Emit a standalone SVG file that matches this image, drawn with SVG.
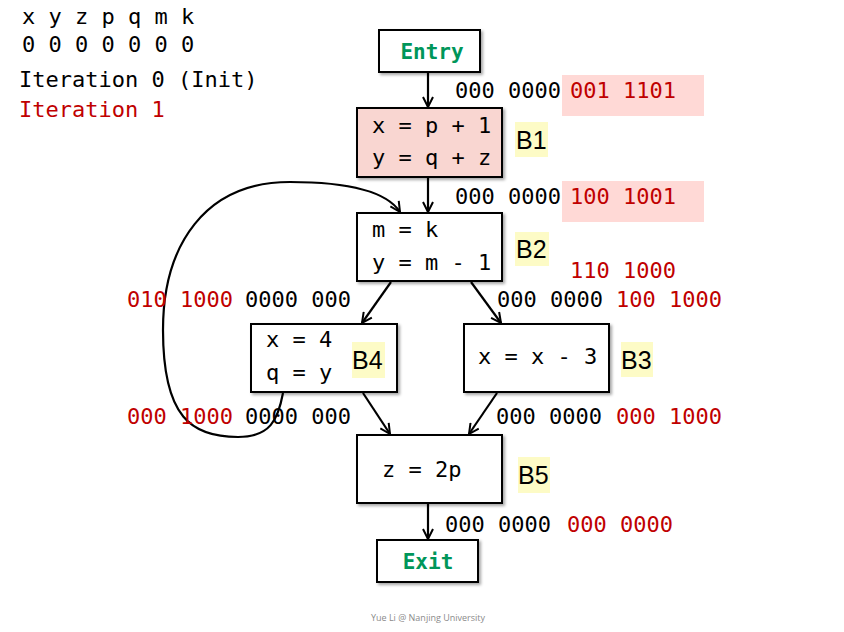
<svg xmlns="http://www.w3.org/2000/svg" width="844" height="632" viewBox="0 0 844 632">
<style>
.m{font-family:"DejaVu Sans Mono","Liberation Mono",monospace;font-size:22px;fill:#000}
.r{fill:#C00000}
.g{font-family:"DejaVu Sans Mono","Liberation Mono",monospace;font-size:21px;font-weight:bold;fill:#00965A}
.box{fill:#fff;stroke:#000;stroke-width:2;filter:url(#sh)}
.lbl{fill:#FDFBC6}
.bl{font-family:"Liberation Sans",Arial,sans-serif;font-size:25px;fill:#000}
.pk{fill:#FFD9D6}
.e{fill:none;stroke:#000;stroke-width:2.2;marker-end:url(#ah)}
</style>
<defs>
<filter id="sh" x="-10%" y="-10%" width="130%" height="130%"><feDropShadow dx="2" dy="2" stdDeviation="1.5" flood-color="#000" flood-opacity="0.35"/></filter>
<marker id="ah" viewBox="0 0 12 12" refX="11" refY="6" markerWidth="12" markerHeight="12" markerUnits="userSpaceOnUse" orient="auto"><path d="M1,1 L11,6 L1,11" fill="none" stroke="#000" stroke-width="2"/></marker>
</defs>
<rect width="844" height="632" fill="#fff"/>
<g id="legend">
<text class="m" x="22" y="24">x y z p q m k</text>
<text class="m" x="22" y="52">0 0 0 0 0 0 0</text>
<text class="m" x="19" y="87">Iteration 0 (Init)</text>
<text class="m r" x="19" y="117">Iteration 1</text>
</g>
<g id="edges">
<line class="e" x1="428" y1="72" x2="428" y2="107"/>
<line class="e" x1="428" y1="177" x2="428" y2="212"/>
<line class="e" x1="391" y1="282" x2="362" y2="323"/>
<line class="e" x1="471" y1="282" x2="501" y2="323"/>
<line class="e" x1="363" y1="393" x2="390" y2="434"/>
<line class="e" x1="497" y1="393" x2="469" y2="434"/>
<line class="e" x1="428" y1="504" x2="428" y2="539"/>
<path class="e" d="M283 393 C278 420,270 437,238 437 C192 437,163 418,163 330 C163 245,205 182,290 182 C350 182,387 192,400 212"/>
</g>
<g id="edge-labels">
<rect class="pk" x="562" y="75" width="142" height="41"/>
<text class="m" x="455" y="98">000 0000</text><text class="m r" x="570" y="98">001 1101</text>
<rect class="pk" x="562" y="181" width="142" height="41"/>
<text class="m" x="455" y="204">000 0000</text><text class="m r" x="570" y="204">100 1001</text>
<text class="m r" x="570" y="278">110 1000</text>
<text class="m" x="497" y="307">000 0000</text><text class="m r" x="616" y="307">100 1000</text>
<text class="m r" x="127" y="307">010 1000</text><text class="m" x="245" y="307">0000 000</text>
<text class="m r" x="127" y="424">000 1000</text><text class="m" x="245" y="424">0000 000</text>
<text class="m" x="496" y="424">000 0000</text><text class="m r" x="616" y="424">000 1000</text>
<text class="m" x="445" y="532">000 0000</text><text class="m r" x="567" y="532">000 0000</text>
</g>
<g id="entry">
<rect class="box" x="379" y="30" width="101" height="42"/>
<text class="g" x="432" y="59" text-anchor="middle">Entry</text>
</g>
<g id="b1">
<rect class="box" x="357" y="108" width="145" height="69" style="fill:#F9D6D1"/>
<text class="m" x="372" y="133">x = p + 1</text>
<text class="m" x="372" y="165">y = q + z</text>
<rect class="lbl" x="515" y="122" width="33" height="35"/>
<text class="bl" x="516" y="149">B1</text>
</g>
<g id="b2">
<rect class="box" x="357" y="213" width="145" height="68"/>
<text class="m" x="372" y="237">m = k</text>
<text class="m" x="372" y="270">y = m - 1</text>
<rect class="lbl" x="515" y="232" width="34" height="34"/>
<text class="bl" x="516" y="258">B2</text>
</g>
<g id="b4">
<rect class="box" x="251" y="324" width="146" height="68"/>
<text class="m" x="266" y="347">x = 4</text>
<text class="m" x="266" y="380">q = y</text>
<rect class="lbl" x="352" y="342" width="33" height="36"/>
<text class="bl" x="352" y="369">B4</text>
</g>
<g id="b3">
<rect class="box" x="464" y="324" width="145" height="68"/>
<text class="m" x="478" y="364">x = x - 3</text>
<rect class="lbl" x="621" y="342" width="32" height="35"/>
<text class="bl" x="621" y="369">B3</text>
</g>
<g id="b5">
<rect class="box" x="357" y="435" width="145" height="68"/>
<text class="m" x="382" y="477">z = 2p</text>
<rect class="lbl" x="518" y="457" width="32" height="36"/>
<text class="bl" x="518" y="484">B5</text>
</g>
<g id="exit">
<rect class="box" x="377" y="540" width="101" height="42"/>
<text class="g" x="428" y="569" text-anchor="middle">Exit</text>
</g>
<text x="428" y="621" text-anchor="middle" style="font-family:'Open Sans','Liberation Sans',sans-serif;font-size:9px;fill:#8a8a8a">Yue Li @ Nanjing University</text>
</svg>
